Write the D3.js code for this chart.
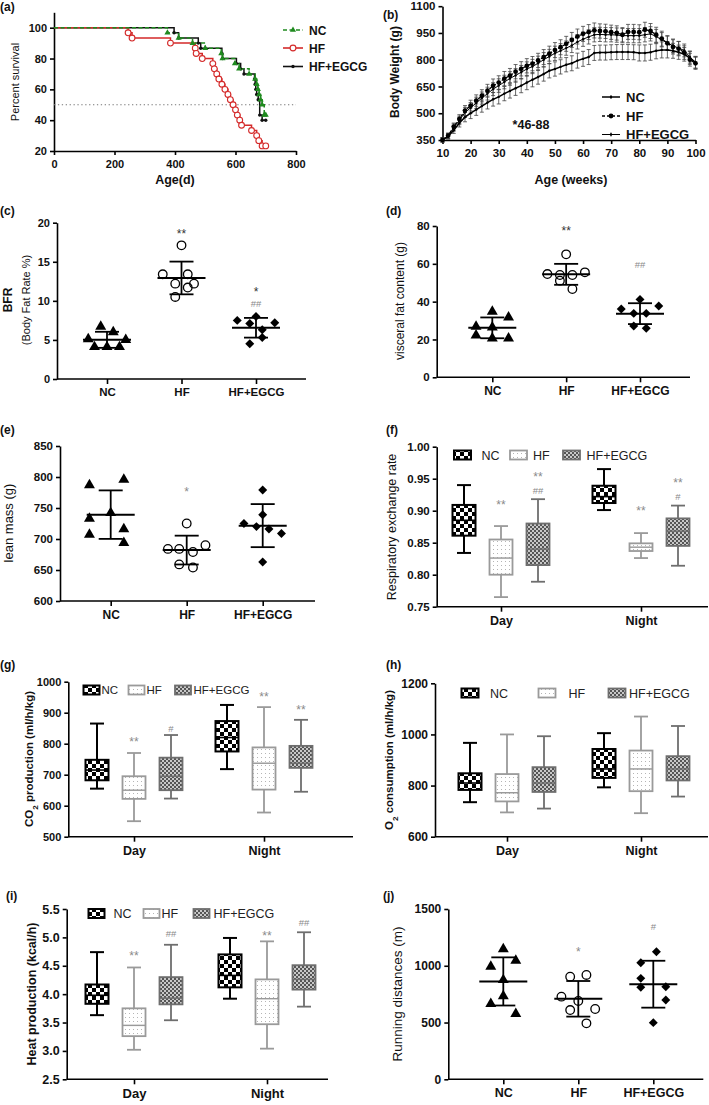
<!DOCTYPE html>
<html><head><meta charset="utf-8">
<script src="https://cdn.jsdelivr.net/npm/d3@7"></script>
<style>
body{margin:0;background:#fff}
svg{display:block}
</style></head><body>
<svg id="fig" width="709" height="1105"></svg>
<script>
// ---------------- DATA ----------------
const groups = ["NC","HF","HF+EGCG"];
const periods = ["Day","Night"];

// (a) Kaplan-Meier survival: [age (d), percent survival]
const kmNC = [[0,100],[375,96.7],[412,93.3],[458,90],[500,86.7],[553,83.3],[557,80],[598,76.7],[612,73.3],[645,70],[665,66.7],[670,63.3],[674,60],[678,56.7],[683,53.3],[688,50],[695,43.3],[700,43.3]];
const kmHF = [[0,100],[245,96.7],[258,93.3],[385,90],[467,86.7],[470,83.3],[490,80],[525,76.7],[530,73.3],[538,70],[545,66.7],[555,63.3],[565,60],[575,56.7],[583,53.3],[592,50],[600,46.7],[606,43.3],[614,40],[620,36.7],[653,33.3],[670,30],[677,26.7],[688,23.3],[700,23.3]];
const kmEG = [[0,100],[397,96.7],[412,93.3],[477,90],[485,86.7],[555,83.3],[557,80],[603,76.7],[617,73.3],[628,70],[663,66.7],[665,63.3],[667,60],[670,56.7],[675,53.3],[680,43.3],[688,40],[700,40]];
const kmMedianLine = 50;

// (b) body weight by age (weeks)
const weeks = [10,12,14,16,18,20,22,24,26,28,30,32,34,36,38,40,42,44,46,48,50,52,54,56,58,60,62,64,66,68,70,72,74,76,78,80,82,84,86,88,90,92,94,96,98,100];
const bwNC = [350,370,405,445,478,500,520,540,560,578,592,610,625,640,655,672,688,703,720,738,748,760,772,780,795,805,815,838,840,840,842,843,843,843,842,838,838,842,850,855,855,850,842,830,810,785];
const bwHF = [350,374,425,468,515,543,571,598,626,654,672,694,711,733,749,766,778,796,815,834,854,870,889,911,930,945,955,964,961,959,954,950,940,956,956,954,968,961,940,918,892,872,862,840,800,780];
const bwEG = [352,372,420,460,505,530,558,585,610,635,655,675,695,712,730,748,762,780,800,818,836,850,865,880,900,915,928,940,942,940,940,938,935,935,935,935,940,945,930,912,895,878,865,852,815,785];
const sdNC = [12,15,18,22,26,30,32,34,36,38,40,40,40,40,40,40,40,40,40,40,40,40,40,42,42,42,42,42,42,42,42,42,42,42,42,45,45,45,45,45,45,42,40,38,36,34];
const sdHF = [12,15,20,24,28,30,32,34,36,38,38,40,40,40,40,40,40,40,42,42,42,42,42,42,42,42,42,42,40,40,40,40,40,42,42,42,42,42,42,42,40,40,40,38,36,34];
const sdEG = [12,15,20,24,28,30,32,34,36,36,38,38,38,38,38,40,40,40,40,40,40,40,40,40,40,40,40,40,40,40,40,40,40,40,40,40,40,40,40,40,40,38,38,36,34,32];

// (c) body fat rate (%)
const bfrNC = [6.7,5.1,6.0,5.0,4.1,4.1,4.1];
const bfrHF = [17.1,13.4,13.4,12.2,12.2,11.7,10.5];
const bfrEG = [7.5,8.0,7.1,7.2,6.3,5.3,4.5];
const bfrSpread = [[-1,-3,1,3,0,-2,2],[0,-3,1,-1,2,1,-1],[-3,0,-1,3,1,1,-1]];
const bfrMarks = [["HF","**",19.0],["HF+EGCG","*",11.5],["HF+EGCG","##",9.6]];

// (d) visceral fat content (g)
const vfNC = [26.8,34.7,31.7,22.2,26.4,20.6,20.6];
const vfHF = [65,54.6,54.1,54.1,55.5,51.1,46.7];
const vfEG = [41.2,36.1,37.7,33.8,33.8,27.1,25.9];
const vfSpread = [[-2.6,0,2.6,-2.6,0,0,2.6],[0,-3,-1,1,3,-1,1],[0,-3,3,-1,1,-1,1]];
const vfMarks = [["HF","**",78.8],["HF+EGCG","##",59.4]];

// (e) lean mass (g)
const lmNC = [787,796,742,733,716,707,694];
const lmHF = [725,684,684,679,690,659,654];
const lmEG = [779,725,739,720,716,709,663];
const lmSpread = [[-3.4,2.1,0,-3.4,2.1,-3.4,2.1],[0,-3,-1.2,1,3,-1.2,1],[0,-3,0,-1,1,3,0]];
const lmMarks = [["HF","*",780]];

// (j) running distances (m)
const rdNC = [1148,992,1045,875,734,664,576];
const rdHF = [904,919,728,690,610,619,493];
const rdEG = [1124,1027,889,810,816,698,499];
const rdSpread = [[0,-2,2,0,0,-2,2],[-1.3,1.3,-2.7,0,-1.3,2.7,1.3],[0.5,-2,-2,-2,2,2,0]];
const rdMarks = [["HF","*",1145],["HF+EGCG","#",1344]];

// box plots: [min, q1, median, q3, max] for [Day, Night]
const rerNC = [[0.834,0.861,0.885,0.909,0.940],[0.901,0.912,0.922,0.939,0.965]];
const rerHF = [[0.765,0.800,0.826,0.855,0.876],[0.826,0.837,0.843,0.849,0.865]];
const rerEG = [[0.789,0.815,0.840,0.880,0.918],[0.814,0.845,0.868,0.888,0.908]];
const rerMarks = [["Day","HF","**",0.914],["Day","HF+EGCG","**",0.957],["Day","HF+EGCG","##",0.931],["Night","HF","**",0.904],["Night","HF+EGCG","**",0.948],["Night","HF+EGCG","#",0.922]];

const co2NC = [[655,682,715,748,865],[718,775,820,873,925]];
const co2HF = [[550,622,650,695,770],[578,652,737,788,918]];
const co2EG = [[623,650,695,755,828],[645,722,737,793,877]];
const co2Marks = [["Day","HF","**",814],["Day","HF+EGCG","#",849],["Night","HF","**",960],["Night","HF+EGCG","**",919]];

const o2NC = [[735,783,810,848,967],[793,830,865,943,1005]];
const o2HF = [[695,738,772,845,1000],[692,778,865,937,1070]];
const o2EG = [[710,775,810,872,993],[757,820,865,915,1033]];
const o2Marks = [];

const heatNC = [[3.63,3.83,3.98,4.17,4.74],[3.92,4.12,4.33,4.70,4.99]];
const heatHF = [[3.02,3.26,3.45,3.75,4.47],[3.04,3.47,3.92,4.26,4.93]];
const heatEG = [[3.54,3.82,3.93,4.30,4.87],[3.78,4.08,4.26,4.51,5.09]];
const heatMarks = [["Day","HF","**",4.72],["Day","HF+EGCG","##",5.07],["Night","HF","**",5.07],["Night","HF+EGCG","##",5.27]];

// ---------------- DRAWING ----------------
const FONT = '"Liberation Sans", Arial, Helvetica, sans-serif';
const svg = d3.select("#fig").attr("font-family", FONT);
const defs = svg.append("defs");

function pattern(id, size, bg, cells) {
  const p = defs.append("pattern").attr("id", id).attr("patternUnits","userSpaceOnUse")
    .attr("width", size).attr("height", size);
  p.append("rect").attr("width", size).attr("height", size).attr("fill", bg);
  cells.forEach(c => p.append("rect").attr("x", c[0]).attr("y", c[1]).attr("width", c[2]).attr("height", c[2]).attr("fill", c[3]));
}
pattern("pNC", 8, "#fff", [[0,0,4,"#000"],[4,4,4,"#000"]]);
pattern("pHF", 4, "#fff", [[1,1,1,"#b5b5b5"]]);
pattern("pEG", 4, "#c8c8c8", [[0,0,2,"#555"],[2,2,2,"#555"]]);
const boxStyle = {
  "NC": {fill:"url(#pNC)", stroke:"#000", sw:2},
  "HF": {fill:"url(#pHF)", stroke:"#9a9a9a", sw:1.8},
  "HF+EGCG": {fill:"url(#pEG)", stroke:"#6e6e6e", sw:1.8}
};

function styleAxis(ax, fs) {
  ax.attr("font-family", FONT).attr("font-size", fs);
  ax.selectAll("path,line").attr("stroke","#000").attr("stroke-width",1.6);
  ax.selectAll("text").attr("fill","#111").attr("font-weight","bold");
}
function addYAxis(scale, x, ticks, fs, fmt) {
  const ax = svg.append("g").attr("transform",`translate(${x},0)`)
    .call(d3.axisLeft(scale).tickValues(ticks).tickSize(4).tickSizeOuter(0).tickPadding(3).tickFormat(fmt || d3.format("d")));
  styleAxis(ax, fs);
  return ax;
}
function addCatAxis(scale, y, left, right, fs) {
  svg.append("line").attr("x1", left).attr("x2", right).attr("y1", y).attr("y2", y)
    .attr("stroke","#000").attr("stroke-width",1.6);
  const ax = svg.append("g").attr("transform",`translate(0,${y})`)
    .call(d3.axisBottom(scale).tickSize(5).tickPadding(4));
  ax.select(".domain").remove();
  styleAxis(ax, fs);
}
function rotLabel(x, y, fs, weight, parts) {
  const t = svg.append("text").attr("transform",`translate(${x},${y}) rotate(-90)`)
    .attr("text-anchor","middle").attr("dy","0.35em").attr("font-size", fs)
    .attr("font-weight", weight).attr("fill","#111");
  parts.forEach(p => {
    const s = t.append("tspan").text(p.t);
    if (p.sub) s.attr("font-size", fs*0.7).attr("baseline-shift","sub");
  });
  return t;
}
function text(x, y, s, fs, weight, anchor, fill) {
  return svg.append("text").attr("x", x).attr("y", y).attr("font-size", fs)
    .attr("font-weight", weight || "normal").attr("text-anchor", anchor || "start")
    .attr("fill", fill || "#111").text(s);
}
function drawMarks(list, xOf, y, darkStars) {
  list.forEach(m => {
    const isStar = m.s.indexOf("*") >= 0;
    text(xOf(m), y(m.v) + (isStar ? 7 : 3.5), m.s, isStar ? 12 : 9.5, "normal", "middle",
      isStar && darkStars ? "#333" : "#8a8a8a");
  });
}
function drawMarker(g, grp, x, y) {
  if (grp === "NC") {
    g.append("path").attr("d", d3.symbol(d3.symbolTriangle, 52)()).attr("transform",`translate(${x},${y})`).attr("fill","#000");
  } else if (grp === "HF") {
    g.append("circle").attr("cx", x).attr("cy", y).attr("r", 4.3).attr("fill","none").attr("stroke","#000").attr("stroke-width",1.3);
  } else {
    g.append("path").attr("d", d3.symbol(d3.symbolSquare, 40)()).attr("transform",`translate(${x},${y}) rotate(45)`).attr("fill","#000");
  }
}

// panel labels
[["(a)",0,11],["(b)",383,19],["(c)",0,215],["(d)",386,215],["(e)",0,434],["(f)",386,434],
 ["(g)",0,669],["(h)",386,669],["(i)",6,900],["(j)",383,900]].forEach(d => text(d[1], d[2], d[0], 12, "bold"));

// ---------- (a) survival ----------
(function(){
  const x = d3.scaleLinear().domain([0,800]).range([54,296]);
  const y = d3.scaleLinear().domain([20,110]).range([151,12.3]);
  addYAxis(y, 54, [20,40,60,80,100], 11);
  const ax = svg.append("g").attr("transform","translate(0,151)")
    .call(d3.axisBottom(x).tickValues([0,200,400,600,800]).tickSize(4).tickSizeOuter(0).tickPadding(5));
  styleAxis(ax, 11);
  rotLabel(15, 82, 11, "normal", [{t:"Percent survival"}]);
  text(175, 184, "Age(d)", 12.5, "bold", "middle");
  svg.append("line").attr("x1", x(0)).attr("x2", x(800)).attr("y1", y(kmMedianLine)).attr("y2", y(kmMedianLine))
    .attr("stroke","#777").attr("stroke-width",1.1).attr("stroke-dasharray","1.3,2.6");
  const line = d3.line().x(d => x(d[0])).y(d => y(d[1])).curve(d3.curveStepAfter);
  const series = [
    {d: kmEG, c:"#111", dash:null, grp:"EG"},
    {d: kmHF, c:"#d42a2a", dash:null, grp:"HF"},
    {d: kmNC, c:"#1f8a1f", dash:"4,2.5", grp:"NC"}
  ];
  const g = svg.append("g");
  series.forEach(s => {
    g.append("path").attr("d", line(s.d)).attr("fill","none").attr("stroke", s.c).attr("stroke-width",1.5)
      .attr("stroke-dasharray", s.dash);
  });
  function kmMark(grp, c, px, py) {
    if (grp === "NC") g.append("path").attr("d", d3.symbol(d3.symbolTriangle, 16)()).attr("transform",`translate(${px},${py})`).attr("fill", c);
    else if (grp === "HF") g.append("circle").attr("cx", px).attr("cy", py).attr("r", 2.9).attr("fill","#fff").attr("stroke", c).attr("stroke-width",1.1);
    else g.append("circle").attr("cx", px).attr("cy", py).attr("r", 1.7).attr("fill", c);
  }
  series.forEach(s => s.d.slice(1).forEach(d => kmMark(s.grp, s.c, x(d[0]), y(d[1]))));
  const lg = [["NC","#1f8a1f","4,2.5",30],["HF","#d42a2a",null,48],["HF+EGCG","#111",null,66.5]];
  const gk = ["NC","HF","EG"];
  lg.forEach((l,i) => {
    g.append("line").attr("x1",283).attr("x2",303).attr("y1",l[3]).attr("y2",l[3]).attr("stroke",l[1]).attr("stroke-width",1.6).attr("stroke-dasharray",l[2]);
    kmMark(gk[i], l[1], 293, l[3]);
    text(309, l[3]+4.5, l[0], 12, "bold");
  });
})();

// ---------- (b) body weight ----------
(function(){
  const x = d3.scaleLinear().domain([10,100]).range([442.5,695.5]);
  const y = d3.scaleLinear().domain([350,1100]).range([140,6.2]);
  addYAxis(y, 442.5, [350,500,650,800,950,1100], 11.5);
  const ax = svg.append("g").attr("transform","translate(0,140)")
    .call(d3.axisBottom(x).tickValues([10,20,30,40,50,60,70,80,90,100]).tickSize(4).tickSizeOuter(0).tickPadding(5));
  styleAxis(ax, 11.5);
  rotLabel(395, 72, 12, "bold", [{t:"Body Weight (g)"}]);
  text(571, 184, "Age (weeks)", 12.5, "bold", "middle");
  const g = svg.append("g");
  const sets = [
    {v: bwNC, sd: sdNC, dash:null, sw:1.5, r:1.2},
    {v: bwEG, sd: sdEG, dash:null, sw:1.0, r:1.2},
    {v: bwHF, sd: sdHF, dash:"3,2", sw:1.3, r:2.4}
  ];
  sets.forEach(s => {
    s.v.forEach((v,i) => {
      const px = x(weeks[i]);
      g.append("line").attr("x1",px).attr("x2",px).attr("y1",y(v - s.sd[i])).attr("y2",y(v + s.sd[i])).attr("stroke","#444").attr("stroke-width",0.8);
      [v - s.sd[i], v + s.sd[i]].forEach(e => g.append("line").attr("x1",px-2).attr("x2",px+2).attr("y1",y(e)).attr("y2",y(e)).attr("stroke","#444").attr("stroke-width",0.8));
    });
  });
  const line = d3.line().x((d,i) => x(weeks[i])).y(d => y(d));
  sets.forEach(s => {
    g.append("path").attr("d", line(s.v)).attr("fill","none").attr("stroke","#000").attr("stroke-width", s.sw).attr("stroke-dasharray", s.dash);
    s.v.forEach((v,i) => g.append("circle").attr("cx", x(weeks[i])).attr("cy", y(v)).attr("r", s.r).attr("fill","#000"));
  });
  const lg = [["NC",97,null,1.5,1.2],["HF",116,"3,2",1.5,2.4],["HF+EGCG",134.5,null,1,1.2]];
  lg.forEach(l => {
    g.append("line").attr("x1",602).attr("x2",620).attr("y1",l[1]).attr("y2",l[1]).attr("stroke","#000").attr("stroke-width",l[3]).attr("stroke-dasharray",l[2]);
    g.append("circle").attr("cx",611).attr("cy",l[1]).attr("r",l[4]).attr("fill","#000");
    if (l[0] !== "HF") g.append("line").attr("x1",611).attr("x2",611).attr("y1",l[1]-2).attr("y2",l[1]+2).attr("stroke","#000").attr("stroke-width",0.8);
    text(626, l[1]+4.5, l[0], 13, "bold");
  });
  text(531, 129, "*46-88", 12.5, "bold", "middle");
})();

// ---------- scatter panels ----------
const SLOT = 6.25;
function scatterPanel(p) {
  const y = d3.scaleLinear().domain(p.yDomain).range(p.yRange);
  const x = d3.scalePoint().domain(groups).range(p.catRange);
  addYAxis(y, p.left, p.ticks, p.tickFs);
  addCatAxis(x, p.yRange[0], p.left, p.right, p.catFs);
  const g = svg.append("g");
  p.data.forEach((vals, gi) => {
    const grp = groups[gi], cx = x(grp);
    vals.forEach((v,i) => drawMarker(g, grp, cx + p.spread[gi][i]*SLOT, y(v)));
  });
  p.data.forEach((vals, gi) => {
    const cx = x(groups[gi]);
    const m = d3.mean(vals), sd = d3.deviation(vals);
    g.append("line").attr("x1",cx-24).attr("x2",cx+24).attr("y1",y(m)).attr("y2",y(m)).attr("stroke","#000").attr("stroke-width",2);
    g.append("line").attr("x1",cx).attr("x2",cx).attr("y1",y(m-sd)).attr("y2",y(m+sd)).attr("stroke","#000").attr("stroke-width",1.8);
    [m-sd, m+sd].forEach(e => g.append("line").attr("x1",cx-12).attr("x2",cx+12).attr("y1",y(e)).attr("y2",y(e)).attr("stroke","#000").attr("stroke-width",1.8));
  });
  drawMarks(p.marks.map(mk => ({grp: mk[0], s: mk[1], v: mk[2]})), m => x(m.grp), y, p.darkStars);
}

scatterPanel({left:57, right:306, yDomain:[0,20], yRange:[379,222.7], catRange:[107,256],
  ticks:[0,5,10,15,20], tickFs:11, catFs:11.5, data:[bfrNC,bfrHF,bfrEG], spread:bfrSpread, marks:bfrMarks, darkStars:true});
rotLabel(8, 300, 12, "bold", [{t:"BFR"}]);
rotLabel(26, 300, 11, "normal", [{t:"(Body Fat Rate %)"}]);

scatterPanel({left:436.7, right:690, yDomain:[0,80], yRange:[377.3,226], catRange:[492.3,640],
  ticks:[0,20,40,60,80], tickFs:11.5, catFs:12, data:[vfNC,vfHF,vfEG], spread:vfSpread, marks:vfMarks, darkStars:true});
rotLabel(400, 301, 12, "normal", [{t:"visceral fat content (g)"}]);

scatterPanel({left:60, right:315, yDomain:[600,850], yRange:[601,446], catRange:[110.7,262.7],
  ticks:[600,650,700,750,800,850], tickFs:11.5, catFs:12, data:[lmNC,lmHF,lmEG], spread:lmSpread, marks:lmMarks});
rotLabel(8, 523, 13, "normal", [{t:"lean mass (g)"}]);

scatterPanel({left:448.3, right:703.3, yDomain:[0,1500], yRange:[1079.3,909], catRange:[503.3,653.3],
  ticks:[0,500,1000,1500], tickFs:12, catFs:12.5, data:[rdNC,rdHF,rdEG], spread:rdSpread, marks:rdMarks});
rotLabel(397, 994, 13.5, "normal", [{t:"Running distances (m)"}]);

// ---------- box panels ----------
function boxPanel(p) {
  const y = d3.scaleLinear().domain(p.yDomain).range(p.yRange);
  const x = d3.scalePoint().domain(periods).range(p.catRange);
  const off = d3.scalePoint().domain(groups).range([-37,37]);
  addYAxis(y, p.left, p.ticks, p.tickFs, p.fmt);
  addCatAxis(x, p.yRange[0], p.left, p.right, p.catFs);
  const g = svg.append("g");
  const BW = 23, CW = 7;
  p.data.forEach((byPer, gi) => byPer.forEach((s, pi) => {
    const st = boxStyle[groups[gi]];
    const cx = x(periods[pi]) + off(groups[gi]);
    g.append("line").attr("x1",cx).attr("x2",cx).attr("y1",y(s[0])).attr("y2",y(s[4])).attr("stroke",st.stroke).attr("stroke-width",st.sw);
    [s[0], s[4]].forEach(e => g.append("line").attr("x1",cx-CW).attr("x2",cx+CW).attr("y1",y(e)).attr("y2",y(e)).attr("stroke",st.stroke).attr("stroke-width",st.sw));
    g.append("rect").attr("x",cx-BW/2).attr("y",y(s[3])).attr("width",BW).attr("height",y(s[1])-y(s[3]))
      .attr("fill",st.fill).attr("stroke",st.stroke).attr("stroke-width",st.sw);
    g.append("line").attr("x1",cx-BW/2).attr("x2",cx+BW/2).attr("y1",y(s[2])).attr("y2",y(s[2])).attr("stroke",st.stroke).attr("stroke-width",st.sw*0.8);
  }));
  drawMarks(p.marks.map(mk => ({per: mk[0], grp: mk[1], s: mk[2], v: mk[3]})),
    m => x(m.per) + off(m.grp), y, false);
  groups.forEach((grp, gi) => {
    const st = boxStyle[grp];
    g.append("rect").attr("x", p.legX[gi]).attr("y", p.legY - 4.5).attr("width", p.legW).attr("height", 9)
      .attr("fill", st.fill).attr("stroke", st.stroke).attr("stroke-width", st.sw);
    text(p.legTX[gi], p.legY + p.legFs*0.36, grp, p.legFs, "normal", "start", "#222");
  });
}

boxPanel({left:436.7, right:708, yDomain:[0.75,1.0], yRange:[606.7,446.7], catRange:[501,641],
  ticks:[0.75,0.80,0.85,0.90,0.95,1.00], fmt:d3.format(".2f"), tickFs:11.5, catFs:12.5,
  data:[rerNC,rerHF,rerEG], marks:rerMarks,
  legY:455, legX:[454,510,563], legW:17, legTX:[481.5,533,586.5], legFs:12.5});
rotLabel(392, 527, 12.5, "normal", [{t:"Respiratory exchange rate"}]);

boxPanel({left:68.3, right:353, yDomain:[500,1000], yRange:[836.7,681.7], catRange:[134,264],
  ticks:[500,600,700,800,900,1000], tickFs:11, catFs:12.5,
  data:[co2NC,co2HF,co2EG], marks:co2Marks,
  legY:690, legX:[83.5,128.5,175], legW:16, legTX:[101.5,146.5,193.5], legFs:11.5});
rotLabel(28.5, 759, 11.5, "bold", [{t:"CO"},{t:"2",sub:true},{t:" production (ml/h/kg)"}]);

boxPanel({left:435, right:708, yDomain:[600,1200], yRange:[836.7,683.3], catRange:[507,641],
  ticks:[600,800,1000,1200], tickFs:12, catFs:12.5,
  data:[o2NC,o2HF,o2EG], marks:o2Marks,
  legY:693, legX:[461.5,538.5,608.5], legW:17, legTX:[490,568.5,629], legFs:12.5});
rotLabel(388.5, 760, 11.5, "bold", [{t:"O"},{t:"2",sub:true},{t:" consumption (ml/h/kg)"}]);

boxPanel({left:66.7, right:328, yDomain:[2.5,5.5], yRange:[1079.3,909], catRange:[134,267],
  ticks:[2.5,3.0,3.5,4.0,4.5,5.0,5.5], fmt:d3.format(".1f"), tickFs:12.5, catFs:13,
  data:[heatNC,heatHF,heatEG], marks:heatMarks,
  legY:913.5, legX:[88.5,143.5,193.5], legW:16, legTX:[113.5,161.5,213.5], legFs:12.5});
rotLabel(32, 994, 12.5, "bold", [{t:"Heat production (kcal/h)"}]);
</script>
</body></html>
